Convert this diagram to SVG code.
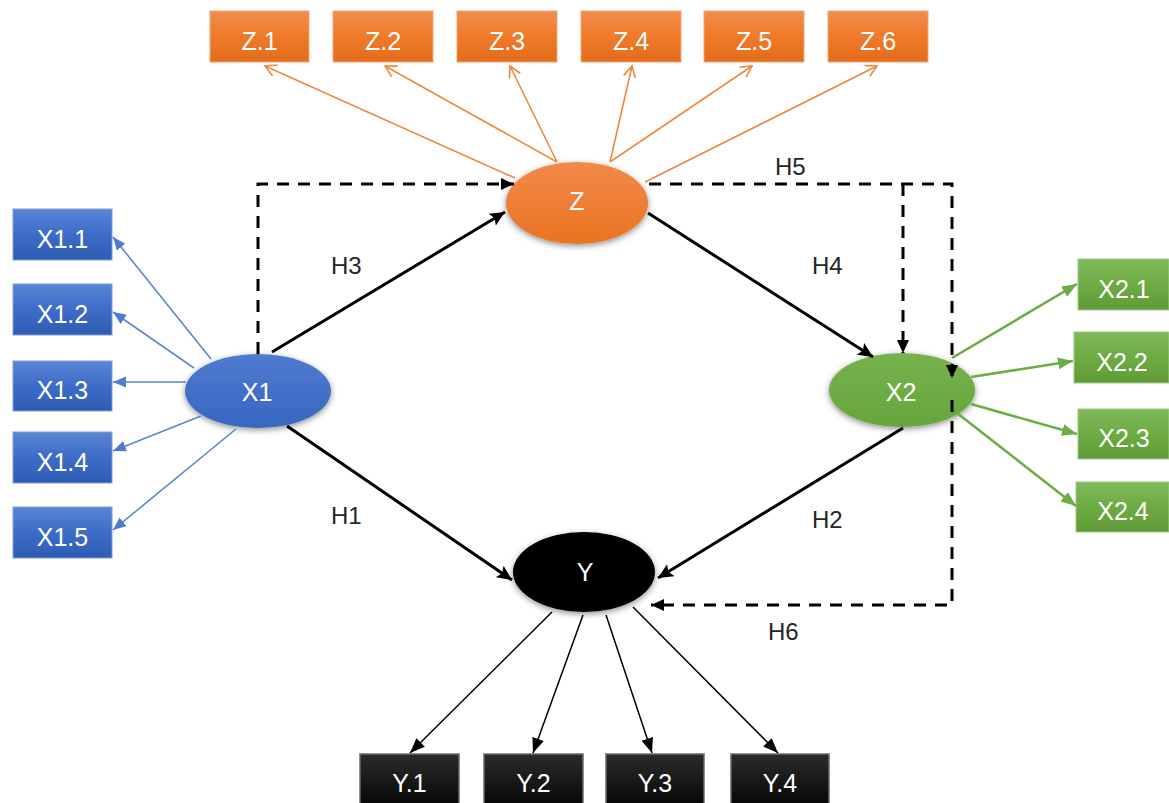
<svg xmlns="http://www.w3.org/2000/svg" width="1169" height="803" viewBox="0 0 1169 803">
  <style>
    .lbl { font-family: "Liberation Sans", Arial, sans-serif; font-size: 25px; fill: #ffffff; text-anchor: middle; }
    .hyp { font-family: "Liberation Sans", Arial, sans-serif; font-size: 24px; fill: #262626; }
    .box-z { fill: url(#gOrange); stroke: #f4a875; stroke-width: 1; }
    .box-x1 { fill: url(#gBlue); stroke: #7f9fdc; stroke-width: 1; }
    .box-x2 { fill: url(#gGreen); stroke: #9fcb85; stroke-width: 1; }
    .box-y { fill: url(#gBlack); stroke: #6a6a6a; stroke-width: 1.5; }
    .path-main { fill: none; stroke: #000; stroke-width: 3; }
    .path-dash { fill: none; stroke: #000; stroke-width: 3; stroke-dasharray: 12 9; }
    .ind-z { fill: none; stroke: #f0893f; stroke-width: 1.6; }
    .ind-x1 { fill: none; stroke: #5b86d3; stroke-width: 1.6; }
    .ind-x2 { fill: none; stroke: #6cad45; stroke-width: 2.6; }
    .ind-y { fill: none; stroke: #000; stroke-width: 1.5; }
  </style>
  <defs>
    <linearGradient id="gOrange" x1="0" y1="0" x2="0" y2="1">
      <stop offset="0" stop-color="#f08d4e"/>
      <stop offset="0.5" stop-color="#ef7a2a"/>
      <stop offset="1" stop-color="#e36c1b"/>
    </linearGradient>
    <linearGradient id="gBlue" x1="0" y1="0" x2="0" y2="1">
      <stop offset="0" stop-color="#5a85d4"/>
      <stop offset="0.5" stop-color="#3d6cc8"/>
      <stop offset="1" stop-color="#2f5cb2"/>
    </linearGradient>
    <linearGradient id="gGreen" x1="0" y1="0" x2="0" y2="1">
      <stop offset="0" stop-color="#80b95c"/>
      <stop offset="0.5" stop-color="#6dab43"/>
      <stop offset="1" stop-color="#5f9b36"/>
    </linearGradient>
    <linearGradient id="gBlack" x1="0" y1="0" x2="0" y2="1">
      <stop offset="0" stop-color="#2c2c2c"/>
      <stop offset="1" stop-color="#000000"/>
    </linearGradient>
    <linearGradient id="eOrange" x1="0" y1="0" x2="0" y2="1">
      <stop offset="0" stop-color="#f28a48"/>
      <stop offset="1" stop-color="#ea7322"/>
    </linearGradient>
    <linearGradient id="eBlue" x1="0" y1="0" x2="0" y2="1">
      <stop offset="0" stop-color="#4f7bd0"/>
      <stop offset="1" stop-color="#3866c0"/>
    </linearGradient>
    <linearGradient id="eGreen" x1="0" y1="0" x2="0" y2="1">
      <stop offset="0" stop-color="#76b24e"/>
      <stop offset="1" stop-color="#66a63c"/>
    </linearGradient>
    <filter id="shadow" x="-30%" y="-30%" width="160%" height="170%">
      <feDropShadow dx="0" dy="2" stdDeviation="3" flood-color="#000" flood-opacity="0.45"/>
    </filter>
    <marker id="aMain" markerUnits="userSpaceOnUse" markerWidth="16" markerHeight="14" refX="15" refY="7" orient="auto">
      <path d="M0,0 L15,7 L0,14 L3,7 z" fill="#000"/>
    </marker>
    <marker id="aDash" markerUnits="userSpaceOnUse" markerWidth="14" markerHeight="14" refX="13" refY="6" orient="auto">
      <path d="M0,0 L13,6 L0,12 z" fill="#000"/>
    </marker>
    <marker id="aZ" markerUnits="userSpaceOnUse" markerWidth="14" markerHeight="16" refX="12" refY="7" orient="auto">
      <path d="M1,1 L12,7 L1,13" fill="none" stroke="#f0893f" stroke-width="1.6"/>
    </marker>
    <marker id="aX1" markerUnits="userSpaceOnUse" markerWidth="14" markerHeight="12" refX="13" refY="5.5" orient="auto">
      <path d="M0,0 L13,5.5 L0,11 z" fill="#4f7bd0"/>
    </marker>
    <marker id="aX2" markerUnits="userSpaceOnUse" markerWidth="16" markerHeight="13" refX="15" refY="6" orient="auto">
      <path d="M0,0 L15,6 L0,12 z" fill="#6cad45"/>
    </marker>
    <marker id="aY" markerUnits="userSpaceOnUse" markerWidth="16" markerHeight="13" refX="15" refY="6" orient="auto">
      <path d="M0,0 L15,6 L0,12 z" fill="#000"/>
    </marker>
  </defs>

  <rect width="1169" height="803" fill="#ffffff"/>

  <!-- indicator boxes of Z -->
  <g id="node-z1"><rect class="box-z" x="210" y="11" width="99" height="51"/><text class="lbl" x="259.5" y="50">Z.1</text></g>
  <g id="node-z2"><rect class="box-z" x="333" y="11" width="100" height="51"/><text class="lbl" x="383" y="50">Z.2</text></g>
  <g id="node-z3"><rect class="box-z" x="457" y="11" width="100" height="51"/><text class="lbl" x="507" y="50">Z.3</text></g>
  <g id="node-z4"><rect class="box-z" x="581" y="11" width="100" height="51"/><text class="lbl" x="631" y="50">Z.4</text></g>
  <g id="node-z5"><rect class="box-z" x="704" y="11" width="100" height="51"/><text class="lbl" x="754" y="50">Z.5</text></g>
  <g id="node-z6"><rect class="box-z" x="828" y="11" width="100" height="51"/><text class="lbl" x="878" y="50">Z.6</text></g>

  <!-- indicator boxes of X1 -->
  <g id="node-x1-1"><rect class="box-x1" x="13" y="209" width="99" height="51"/><text class="lbl" x="62.5" y="248">X1.1</text></g>
  <g id="node-x1-2"><rect class="box-x1" x="13" y="284" width="99" height="51"/><text class="lbl" x="62.5" y="323">X1.2</text></g>
  <g id="node-x1-3"><rect class="box-x1" x="13" y="361" width="99" height="50"/><text class="lbl" x="62.5" y="399">X1.3</text></g>
  <g id="node-x1-4"><rect class="box-x1" x="13" y="432" width="99" height="51"/><text class="lbl" x="62.5" y="471">X1.4</text></g>
  <g id="node-x1-5"><rect class="box-x1" x="13" y="507" width="99" height="51"/><text class="lbl" x="62.5" y="546">X1.5</text></g>

  <!-- indicator boxes of X2 -->
  <g id="node-x2-1"><rect class="box-x2" x="1078" y="259" width="91" height="51"/><text class="lbl" x="1124" y="298">X2.1</text></g>
  <g id="node-x2-2"><rect class="box-x2" x="1074" y="332" width="95" height="51"/><text class="lbl" x="1122" y="371">X2.2</text></g>
  <g id="node-x2-3"><rect class="box-x2" x="1078" y="409" width="91" height="50"/><text class="lbl" x="1124" y="447">X2.3</text></g>
  <g id="node-x2-4"><rect class="box-x2" x="1076" y="482" width="93" height="50"/><text class="lbl" x="1123" y="520">X2.4</text></g>

  <!-- indicator boxes of Y -->
  <g id="node-y1"><rect class="box-y" x="360" y="754" width="99" height="60"/><text class="lbl" x="409.5" y="792">Y.1</text></g>
  <g id="node-y2"><rect class="box-y" x="484" y="754" width="99" height="60"/><text class="lbl" x="533.5" y="792">Y.2</text></g>
  <g id="node-y3"><rect class="box-y" x="606" y="754" width="98" height="60"/><text class="lbl" x="655" y="792">Y.3</text></g>
  <g id="node-y4"><rect class="box-y" x="731" y="754" width="98" height="60"/><text class="lbl" x="780" y="792">Y.4</text></g>

  <!-- latent variables -->
  <g id="node-z"><ellipse cx="577" cy="203" rx="71" ry="41" fill="url(#eOrange)" filter="url(#shadow)"/><text class="lbl" x="577" y="210">Z</text></g>
  <g id="node-x1"><ellipse cx="258" cy="391" rx="73" ry="37" fill="url(#eBlue)" filter="url(#shadow)"/><text class="lbl" x="257" y="401">X1</text></g>
  <g id="node-x2"><ellipse cx="902" cy="390" rx="73" ry="37" fill="url(#eGreen)" filter="url(#shadow)"/><text class="lbl" x="901" y="401">X2</text></g>
  <g id="node-y"><ellipse cx="584" cy="572" rx="71" ry="40" fill="#000" filter="url(#shadow)"/><text class="lbl" x="585" y="581">Y</text></g>

  <!-- connectors -->
  <g id="connectors">
    <!-- Z indicators -->
    <line class="ind-z" x1="515" y1="178" x2="265" y2="66" marker-end="url(#aZ)"/>
    <line class="ind-z" x1="557" y1="162" x2="385" y2="66" marker-end="url(#aZ)"/>
    <line class="ind-z" x1="557" y1="162" x2="510" y2="66" marker-end="url(#aZ)"/>
    <line class="ind-z" x1="610" y1="162" x2="632" y2="66" marker-end="url(#aZ)"/>
    <line class="ind-z" x1="610" y1="162" x2="752" y2="66" marker-end="url(#aZ)"/>
    <line class="ind-z" x1="645" y1="182" x2="877" y2="66" marker-end="url(#aZ)"/>

    <!-- X1 indicators -->
    <line class="ind-x1" x1="211" y1="359" x2="113" y2="237" marker-end="url(#aX1)"/>
    <line class="ind-x1" x1="194" y1="368" x2="113" y2="312" marker-end="url(#aX1)"/>
    <line class="ind-x1" x1="186" y1="382" x2="113" y2="382" marker-end="url(#aX1)"/>
    <line class="ind-x1" x1="201" y1="416" x2="113" y2="451" marker-end="url(#aX1)"/>
    <line class="ind-x1" x1="236" y1="429" x2="113" y2="530" marker-end="url(#aX1)"/>

    <!-- X2 indicators -->
    <line class="ind-x2" x1="952" y1="358" x2="1077" y2="284" marker-end="url(#aX2)"/>
    <line class="ind-x2" x1="971" y1="377" x2="1073" y2="361" marker-end="url(#aX2)"/>
    <line class="ind-x2" x1="971" y1="404" x2="1077" y2="434" marker-end="url(#aX2)"/>
    <line class="ind-x2" x1="957" y1="413" x2="1076" y2="506" marker-end="url(#aX2)"/>

    <!-- Y indicators -->
    <line class="ind-y" x1="552" y1="612" x2="410" y2="753" marker-end="url(#aY)"/>
    <line class="ind-y" x1="583" y1="615" x2="533" y2="753" marker-end="url(#aY)"/>
    <line class="ind-y" x1="606" y1="615" x2="652" y2="753" marker-end="url(#aY)"/>
    <line class="ind-y" x1="633" y1="607" x2="778" y2="753" marker-end="url(#aY)"/>

    <!-- direct paths -->
    <line class="path-main" x1="272" y1="352" x2="505" y2="212" marker-end="url(#aMain)"/>
    <line class="path-main" x1="648" y1="213" x2="873" y2="357" marker-end="url(#aMain)"/>
    <line class="path-main" x1="287" y1="426" x2="512" y2="580" marker-end="url(#aMain)"/>
    <line class="path-main" x1="903" y1="428" x2="658" y2="578" marker-end="url(#aMain)"/>

    <!-- mediated paths -->
    <path class="path-dash" d="M258,354 V184 H514" marker-end="url(#aDash)"/>
    <path class="path-dash" d="M649,184 H952 V378" marker-end="url(#aDash)"/>
    <path class="path-dash" d="M903,184 V353" marker-end="url(#aDash)"/>
    <path class="path-dash" d="M952,400 V605 H651" marker-end="url(#aDash)"/>
  </g>

  <!-- hypothesis labels -->
  <text class="hyp" x="331" y="274">H3</text>
  <text class="hyp" x="775" y="175">H5</text>
  <text class="hyp" x="812" y="274">H4</text>
  <text class="hyp" x="331" y="524">H1</text>
  <text class="hyp" x="812" y="528">H2</text>
  <text class="hyp" x="768" y="640">H6</text>
</svg>
